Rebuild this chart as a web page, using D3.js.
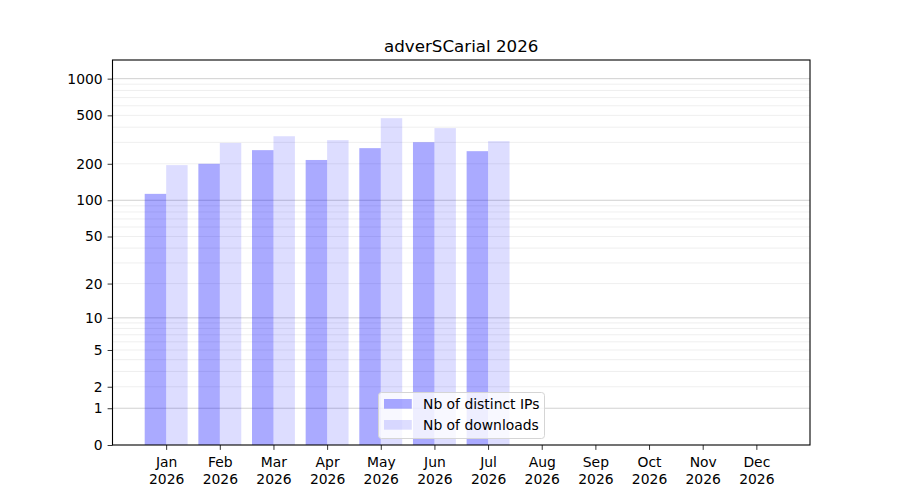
<!DOCTYPE html>
<html><head><meta charset="utf-8">
<script src="https://cdn.jsdelivr.net/npm/d3@7"></script>
<style>body{margin:0;background:#fff}svg{display:block}text{font-family:"DejaVu Sans",sans-serif}</style>
</head><body>
<svg id="c" width="900" height="500"></svg>
<script>
const title = "adverSCarial 2026";
const months = ["Jan","Feb","Mar","Apr","May","Jun","Jul","Aug","Sep","Oct","Nov","Dec"];
const yearLabel = "2026";
const distinctIPs = [113, 200, 259, 215, 269, 301, 254];
const downloads = [195, 297, 337, 313, 474, 393, 307];
const yTicks = [0, 1, 2, 5, 10, 20, 50, 100, 200, 500, 1000];
const majorGrid = [1, 10, 100, 1000];
const minorGrid = [2,3,4,5,6,7,8,9,20,30,40,50,60,70,80,90,200,300,400,500,600,700,800,900];
const seriesNames = ["Nb of distinct IPs", "Nb of downloads"];

const W = 900, H = 500;
const L = 112.5, R = 810, T = 60, B = 445;
const svg = d3.select("#c");
const yMax = d3.max(downloads) * 3;
const x = d3.scaleLinear().domain([-1, 12]).range([L, R]);
const y = d3.scaleSymlog().constant(1).domain([0, yMax]).range([B, T]);
const bw = x(0.4) - x(0);

const g = svg.append("g");
// grid
g.selectAll(".mi").data(minorGrid).join("line")
  .attr("x1", L).attr("x2", R).attr("y1", d => y(d)).attr("y2", d => y(d))
  .attr("stroke", "#ebebeb").attr("stroke-width", 0.8);
g.selectAll(".ma").data(majorGrid).join("line")
  .attr("x1", L).attr("x2", R).attr("y1", d => y(d)).attr("y2", d => y(d))
  .attr("stroke", "#c4c4c4").attr("stroke-width", 0.8);

// bars
g.selectAll(".ip").data(distinctIPs).join("rect")
  .attr("x", (d, i) => x(i - 0.4)).attr("width", bw)
  .attr("y", d => y(d)).attr("height", d => B - y(d))
  .attr("fill", "blue").attr("fill-opacity", 0.333);
g.selectAll(".dl").data(downloads).join("rect")
  .attr("x", (d, i) => x(i)).attr("width", bw)
  .attr("y", d => y(d)).attr("height", d => B - y(d))
  .attr("fill", "blue").attr("fill-opacity", 0.133);

// axes
const fs = 13.9;
const yAxis = svg.append("g").attr("transform", `translate(${L},0)`)
  .call(d3.axisLeft(y).tickValues(yTicks).tickFormat(d3.format("d")).tickSize(4.9).tickPadding(4.9));
yAxis.select(".domain").remove();
yAxis.selectAll("text").attr("font-size", fs).attr("fill", "#000").attr("font-family", "DejaVu Sans");
yAxis.selectAll("line").attr("stroke", "#000").attr("stroke-width", 0.8);

const xAxis = svg.append("g").attr("transform", `translate(0,${B})`)
  .call(d3.axisBottom(x).tickValues(d3.range(12)).tickFormat("").tickSize(4.9));
xAxis.select(".domain").remove();
xAxis.selectAll("line").attr("stroke", "#000").attr("stroke-width", 0.8);
xAxis.selectAll(".tick").append("text")
  .attr("text-anchor", "middle").attr("font-size", fs).attr("fill", "#000")
  .attr("font-family", "DejaVu Sans")
  .each(function(d) {
    const t = d3.select(this);
    t.append("tspan").attr("x", 0).attr("y", 22).text(months[d]);
    t.append("tspan").attr("x", 0).attr("y", 38.5).text(yearLabel);
  });

// frame
svg.append("rect").attr("x", L).attr("y", T).attr("width", R - L).attr("height", B - T)
  .attr("fill", "none").attr("stroke", "#000").attr("stroke-width", 1.1);

// title
svg.append("text").attr("x", (L + R) / 2).attr("y", 52).attr("text-anchor", "middle")
  .attr("font-size", 16.7).attr("fill", "#000").text(title);

// legend
const lg = svg.append("g");
lg.append("rect").attr("x", 378.5).attr("y", 392.5).attr("width", 166).attr("height", 46)
  .attr("rx", 3).attr("fill", "#fff").attr("fill-opacity", 0.8)
  .attr("stroke", "#d5d5d5").attr("stroke-width", 1);
const op = [0.333, 0.133];
seriesNames.forEach((n, i) => {
  const cy = 404 + i * 21;
  lg.append("rect").attr("x", 384).attr("y", cy - 5).attr("width", 27.8).attr("height", 9.7)
    .attr("fill", "blue").attr("fill-opacity", op[i]);
  lg.append("text").attr("x", 423).attr("y", cy + 5).attr("font-size", fs).attr("fill", "#000").text(n);
});
</script>
</body></html>
